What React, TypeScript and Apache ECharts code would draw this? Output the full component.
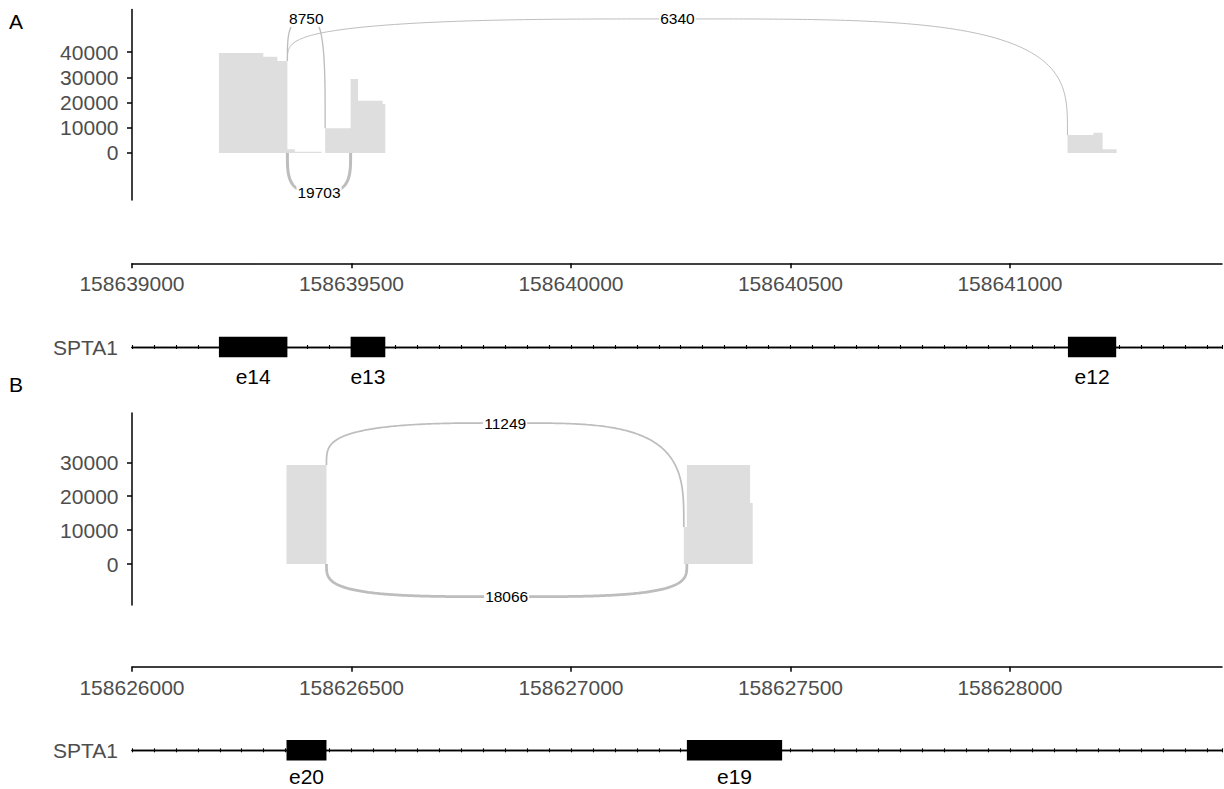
import React, { useEffect, useRef } from "react";
import * as echarts from "echarts";

const FONT = '"Liberation Sans", Arial, Helvetica, sans-serif';
const AXIS_TEXT = "#4d4d4d";
const COVERAGE_FILL = "#dedede";
const ARC_STROKE = "#bdbdbd";
const GENE = "SPTA1";

// ---- Panel A: SPTA1 exons 14, 13, 12 ----
const A_X_MIN = 158639000;
const A_X_MAX = 158641483;
const A_X_TICKS = [158639000, 158639500, 158640000, 158640500, 158641000];
const A_Y_MIN = -18650;
const A_Y_MAX = 56940;
const A_Y_TICKS = [0, 10000, 20000, 30000, 40000];
// coverage as a step function: value i holds from edge i to edge i+1
const A_COV_EDGES = [
  158639198, 158639299, 158639331, 158639354, 158639371, 158639432, 158639440,
  158639498, 158639515, 158639571, 158639577, 158641131, 158641190, 158641211, 158641243,
];
const A_COV_VALUES = [39700, 38200, 36500, 1500, 500, 0, 9800, 29400, 20750, 19450, 0, 7100, 8050, 1450];
const A_JUNC_START = [158639354, 158639354, 158639354];
const A_JUNC_END = [158639440, 158641131, 158639498];
const A_JUNC_READS = [8750, 6340, 19703];
const A_JUNC_ABOVE = [true, true, false];
const A_ARC_TOP = 53200;
const A_ARC_BOTTOM = -15480;
const A_EXON_NAMES = ["e14", "e13", "e12"];
const A_EXON_START = [158639198, 158639498, 158641132];
const A_EXON_END = [158639354, 158639577, 158641242];

// ---- Panel B: SPTA1 exons 20, 19 ----
const B_X_MIN = 158626000;
const B_X_MAX = 158628483;
const B_X_TICKS = [158626000, 158626500, 158627000, 158627500, 158628000];
const B_Y_MIN = -12090;
const B_Y_MAX = 44540;
const B_Y_TICKS = [0, 10000, 20000, 30000];
const B_COV_EDGES = [158626352, 158626443, 158627257, 158627264, 158627408, 158627414];
const B_COV_VALUES = [29200, 0, 10900, 29200, 18000];
const B_JUNC_START = [158626443, 158626443];
const B_JUNC_END = [158627257, 158627264];
const B_JUNC_READS = [11249, 18066];
const B_JUNC_ABOVE = [true, false];
const B_ARC_TOP = 41590;
const B_ARC_BOTTOM = -9650;
const B_EXON_NAMES = ["e20", "e19"];
const B_EXON_START = [158626352, 158627264];
const B_EXON_END = [158626443, 158627481];

const MAX_READS = Math.max(...A_JUNC_READS, ...B_JUNC_READS);
const ARC_SHAPE = 3.5; // superellipse exponent for the junction arcs

function stepPoints(edges: number[], values: number[]) {
  const pts: number[][] = [];
  for (let i = 0; i < values.length; i++) pts.push([edges[i], values[i]]);
  pts.push([edges[edges.length - 1], values[values.length - 1]]);
  return pts;
}

function arcData(
  edges: number[], values: number[], starts: number[], ends: number[],
  reads: number[], above: boolean[], top: number, bottom: number
) {
  return starts.map((s, i) => {
    const e = ends[i];
    if (above[i]) {
      const ys = values[edges.indexOf(s) - 1];
      const ye = values[edges.indexOf(e)];
      return [s, e, ys, ye, top, reads[i]];
    }
    return [s, e, 0, 0, bottom, reads[i]];
  });
}

function renderArc(params: any, api: any) {
  const x0 = api.value(0), x1 = api.value(1);
  const p0 = api.coord([x0, api.value(2)]);
  const p1 = api.coord([x1, api.value(3)]);
  const pa = api.coord([(x0 + x1) / 2, api.value(4)]);
  const reads = api.value(5);
  const pts: number[][] = [];
  const n = 240;
  for (let i = 0; i <= n; i++) {
    // cosine spacing puts more samples near the steep ends
    const u = (1 - Math.cos((Math.PI * i) / n)) / 2;
    const x = p0[0] + (p1[0] - p0[0]) * u;
    const base = p0[1] + (p1[1] - p0[1]) * u;
    const f = Math.pow(Math.max(0, 1 - Math.pow(Math.abs(2 * u - 1), ARC_SHAPE)), 1 / ARC_SHAPE);
    pts.push([x, base + (pa[1] - base) * f]);
  }
  return {
    type: "group",
    children: [
      {
        type: "polyline",
        shape: { points: pts },
        style: { stroke: ARC_STROKE, lineWidth: Math.max(1, (3 * reads) / MAX_READS), fill: null },
      },
      {
        type: "text",
        x: pa[0],
        y: pa[1],
        style: {
          text: String(reads),
          align: "center",
          verticalAlign: "middle",
          fill: "#000",
          fontSize: 15.5,
          fontFamily: FONT,
          backgroundColor: "#fff",
          padding: [0, 1],
        },
      },
    ],
  };
}

function makeExonRenderer(names: string[], labelGap: number) {
  return (params: any, api: any) => {
    const cs = params.coordSys;
    const x0 = api.coord([api.value(0), 0])[0];
    const x1 = api.coord([api.value(2), 0])[0];
    return {
      type: "group",
      children: [
        { type: "rect", shape: { x: x0, y: cs.y, width: x1 - x0, height: cs.height }, style: { fill: "#000" } },
        {
          type: "text",
          x: (x0 + x1) / 2,
          y: cs.y + cs.height / 2 + labelGap,
          style: {
            text: names[params.dataIndex],
            align: "center",
            verticalAlign: "middle",
            fill: "#000",
            fontSize: 21,
            fontFamily: FONT,
          },
        },
      ],
    };
  };
}

function coverageX(gridIndex: number, min: number, max: number, ticks: number[], offset: number) {
  return {
    type: "value", gridIndex, min, max, position: "bottom", offset,
    axisLine: { show: true, onZero: false, lineStyle: { color: "#000", width: 1.5 } },
    axisTick: { show: true, customValues: ticks, length: 5, lineStyle: { color: "#000", width: 1.5 } },
    axisLabel: {
      show: true, customValues: ticks, margin: 10, color: AXIS_TEXT, fontSize: 21, fontFamily: FONT,
      formatter: (v: number) => String(v),
    },
    splitLine: { show: false },
  };
}

// intron line of the gene model with small strand ticks every 50 bp
function strandX(gridIndex: number, min: number, max: number, position: string, half: number) {
  return {
    type: "value", gridIndex, min, max, interval: 50, position, offset: -half,
    axisLine: { show: true, onZero: false, lineStyle: { color: "#000", width: 1.3 } },
    axisTick: { show: true, length: 2, lineStyle: { color: "#000", width: 1.1 } },
    axisLabel: { show: false },
    splitLine: { show: false },
  };
}

function coverageY(gridIndex: number, min: number, max: number, ticks: number[]) {
  return {
    type: "value", gridIndex, min, max,
    axisLine: { show: true, onZero: false, lineStyle: { color: "#000", width: 1.5 } },
    axisTick: { show: true, customValues: ticks, length: 5, lineStyle: { color: "#000", width: 1.5 } },
    axisLabel: {
      show: true, customValues: ticks, margin: 13.5, color: AXIS_TEXT, fontSize: 21, fontFamily: FONT,
      formatter: (v: number) => String(v),
    },
    splitLine: { show: false },
  };
}

function geneY(gridIndex: number) {
  return {
    type: "category", gridIndex, data: [GENE],
    axisLine: { show: false }, axisTick: { show: false },
    axisLabel: { margin: 14, color: AXIS_TEXT, fontSize: 21, fontFamily: FONT },
    splitLine: { show: false },
  };
}

const GENE_H = 20.6;

function buildOption() {
  const grid = (top: number, height: number) => ({
    left: 132, top, width: 1090, height, containLabel: false, outerBoundsMode: "none",
  });
  return {
    animation: false,
    backgroundColor: "#fff",
    grid: [grid(9.5, 190.5), grid(336.7, GENE_H), grid(413, 192), grid(740, GENE_H)],
    xAxis: [
      coverageX(0, A_X_MIN, A_X_MAX, A_X_TICKS, 63.3),
      strandX(1, A_X_MIN, A_X_MAX, "bottom", GENE_H / 2),
      strandX(1, A_X_MIN, A_X_MAX, "top", GENE_H / 2),
      coverageX(2, B_X_MIN, B_X_MAX, B_X_TICKS, 61.7),
      strandX(3, B_X_MIN, B_X_MAX, "bottom", GENE_H / 2),
      strandX(3, B_X_MIN, B_X_MAX, "top", GENE_H / 2),
    ],
    yAxis: [
      coverageY(0, A_Y_MIN, A_Y_MAX, A_Y_TICKS),
      geneY(1),
      coverageY(2, B_Y_MIN, B_Y_MAX, B_Y_TICKS),
      geneY(3),
    ],
    graphic: [
      { type: "text", left: 9, top: 11, style: { text: "A", fill: "#000", fontSize: 21, fontFamily: FONT } },
      { type: "text", left: 9, top: 374, style: { text: "B", fill: "#000", fontSize: 21, fontFamily: FONT } },
    ],
    series: [
      {
        type: "line", xAxisIndex: 0, yAxisIndex: 0, step: "end", symbol: "none", showSymbol: false,
        data: stepPoints(A_COV_EDGES, A_COV_VALUES),
        lineStyle: { width: 0, opacity: 0 },
        areaStyle: { color: COVERAGE_FILL, opacity: 1 },
        silent: true, z: 1,
      },
      {
        type: "custom", xAxisIndex: 0, yAxisIndex: 0, silent: true, z: 3,
        encode: { x: [0, 1], y: [2, 3, 4] },
        data: arcData(A_COV_EDGES, A_COV_VALUES, A_JUNC_START, A_JUNC_END, A_JUNC_READS, A_JUNC_ABOVE, A_ARC_TOP, A_ARC_BOTTOM),
        renderItem: renderArc,
      },
      {
        type: "custom", xAxisIndex: 1, yAxisIndex: 1, silent: true, z: 3,
        encode: { x: [0, 2], y: 1 },
        data: A_EXON_START.map((s, i) => [s, 0, A_EXON_END[i]]),
        renderItem: makeExonRenderer(A_EXON_NAMES, 29),
      },
      {
        type: "line", xAxisIndex: 3, yAxisIndex: 2, step: "end", symbol: "none", showSymbol: false,
        data: stepPoints(B_COV_EDGES, B_COV_VALUES),
        lineStyle: { width: 0, opacity: 0 },
        areaStyle: { color: COVERAGE_FILL, opacity: 1 },
        silent: true, z: 1,
      },
      {
        type: "custom", xAxisIndex: 3, yAxisIndex: 2, silent: true, z: 3,
        encode: { x: [0, 1], y: [2, 3, 4] },
        data: arcData(B_COV_EDGES, B_COV_VALUES, B_JUNC_START, B_JUNC_END, B_JUNC_READS, B_JUNC_ABOVE, B_ARC_TOP, B_ARC_BOTTOM),
        renderItem: renderArc,
      },
      {
        type: "custom", xAxisIndex: 4, yAxisIndex: 3, silent: true, z: 3,
        encode: { x: [0, 2], y: 1 },
        data: B_EXON_START.map((s, i) => [s, 0, B_EXON_END[i]]),
        renderItem: makeExonRenderer(B_EXON_NAMES, 26),
      },
    ],
  };
}

export default function App() {
  const ref = useRef<HTMLDivElement>(null);
  useEffect(() => {
    if (!ref.current) return;
    const chart = echarts.init(ref.current, null, { renderer: "svg", width: 1224, height: 789 });
    chart.setOption(buildOption() as any);
    return () => chart.dispose();
  }, []);
  return (
    <div
      ref={ref}
      style={{ position: "fixed", left: 0, top: 0, width: 1224, height: 789, background: "#fff" }}
    />
  );
}
